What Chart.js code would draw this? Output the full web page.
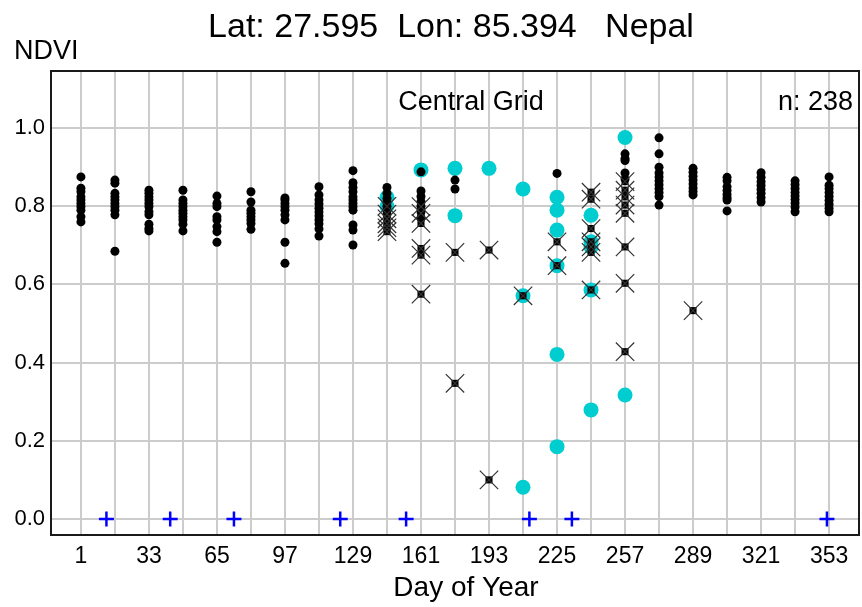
<!DOCTYPE html>
<html>
<head>
<meta charset="utf-8">
<title>NDVI by Day of Year</title>
<script src="https://cdn.jsdelivr.net/npm/chart.js@4"></script>
<style>
  html, body { margin: 0; padding: 0; background: #fff; }
  canvas { display: block; }
</style>
</head>
<body>
<canvas id="c" width="862" height="607"></canvas>
<script>
// 16-day composite dates (day of year)
const doyGrid = [1, 17, 33, 49, 65, 81, 97, 113, 129, 145, 161, 177,
                 193, 209, 225, 241, 257, 273, 289, 305, 321, 337, 353];

// Good-quality NDVI observations, one list per composite date
const goodNdvi = [
  [0.875, 0.846, 0.837, 0.824, 0.816, 0.807, 0.799, 0.790, 0.773, 0.760],
  [0.867, 0.859, 0.833, 0.824, 0.816, 0.807, 0.799, 0.790, 0.778, 0.685],
  [0.841, 0.833, 0.824, 0.816, 0.807, 0.799, 0.786, 0.778, 0.754, 0.743, 0.737],
  [0.841, 0.816, 0.807, 0.799, 0.790, 0.782, 0.773, 0.765, 0.754, 0.737],
  [0.826, 0.807, 0.799, 0.773, 0.765, 0.748, 0.735, 0.708],
  [0.837, 0.811, 0.790, 0.782, 0.773, 0.765, 0.756, 0.741],
  [0.821, 0.816, 0.807, 0.799, 0.790, 0.778, 0.765, 0.708, 0.654],
  [0.850, 0.829, 0.816, 0.806, 0.795, 0.785, 0.775, 0.765, 0.755, 0.742, 0.724],
  [0.891, 0.860, 0.848, 0.837, 0.824, 0.816, 0.807, 0.799, 0.790, 0.752, 0.739, 0.701],
  [0.848, 0.833, 0.820, 0.810, 0.800, 0.790, 0.780],
  [0.888, 0.839, 0.825, 0.812, 0.800, 0.786, 0.770],
  [0.867, 0.844],
  [],
  [],
  [0.884],
  [],
  [0.934, 0.922, 0.917, 0.885, 0.870],
  [0.975, 0.934, 0.900, 0.885, 0.875, 0.865, 0.855, 0.845, 0.835, 0.825, 0.803],
  [0.897, 0.887, 0.877, 0.867, 0.857, 0.847, 0.838, 0.829],
  [0.874, 0.865, 0.850, 0.840, 0.830, 0.822, 0.816, 0.788],
  [0.886, 0.874, 0.863, 0.853, 0.843, 0.833, 0.822, 0.811],
  [0.865, 0.855, 0.845, 0.835, 0.826, 0.817, 0.808, 0.798, 0.786],
  [0.875, 0.854, 0.845, 0.835, 0.825, 0.815, 0.805, 0.795, 0.786]
];

// Cloud-affected observations (day of year, NDVI)
const cloudDoy  = [145, 145, 161, 177, 177, 193, 209, 209, 209,
                   225, 225, 225, 225, 225, 225, 241, 241, 241, 241, 241, 257, 257];
const cloudNdvi = [0.823, 0.800, 0.893, 0.897, 0.776, 0.897, 0.844, 0.571, 0.081,
                   0.823, 0.790, 0.739, 0.648, 0.421, 0.185, 0.777, 0.709, 0.696, 0.586, 0.279, 0.976, 0.317];

// Flagged observations (day of year, NDVI)
const flagDoy  = [145, 145, 145, 145, 145, 145, 161, 161, 161, 161, 161, 161,
                  177, 177, 193, 193, 209, 225, 225,
                  241, 241, 241, 241, 241, 241, 241,
                  257, 257, 257, 257, 257, 257, 257, 257, 289];
const flagNdvi = [0.800, 0.780, 0.768, 0.755, 0.745, 0.735, 0.799, 0.782, 0.756, 0.692, 0.675, 0.575,
                  0.682, 0.347, 0.688, 0.100, 0.571, 0.709, 0.648,
                  0.836, 0.818, 0.743, 0.709, 0.696, 0.682, 0.586,
                  0.863, 0.841, 0.824, 0.803, 0.782, 0.696, 0.603, 0.428, 0.533];

// Days with snow / missing retrievals, plotted on the zero line
const snowDoy  = [13, 43, 73, 123, 154, 212, 232, 352];
const snowNdvi = [0, 0, 0, 0, 0, 0, 0, 0];

// Axis ticks
const xTickDays  = doyGrid;
const xLabelDays = [1, 33, 65, 97, 129, 161, 193, 225, 257, 289, 321, 353];
const yTicks     = [0.0, 0.2, 0.4, 0.6, 0.8, 1.0];

const FONT = "'Liberation Sans', Arial, Helvetica, sans-serif";

const pairs = (xs, ys) => xs.map((x, i) => ({ x: x, y: ys[i] }));
const goodPoints = [];
doyGrid.forEach((d, i) => goodNdvi[i].forEach(v => goodPoints.push({ x: d, y: v })));
const cloudPoints = pairs(cloudDoy, cloudNdvi);
const flagPoints = pairs(flagDoy, flagNdvi);
const snowPoints = pairs(snowDoy, snowNdvi);

// Frame and annotation text
const decorations = {
  id: 'decorations',
  afterDraw(chart) {
    const { ctx, chartArea: a } = chart;
    ctx.save();
    ctx.strokeStyle = '#1a1a1a';
    ctx.lineWidth = 2;
    ctx.strokeRect(a.left, a.top, a.right - a.left, a.bottom - a.top);

    ctx.fillStyle = '#000';
    ctx.textBaseline = 'alphabetic';
    ctx.textAlign = 'center';
    ctx.font = '34px ' + FONT;
    ctx.fillText('Lat: 27.595  Lon: 85.394   Nepal', 451, 37);

    ctx.textAlign = 'left';
    ctx.font = '27px ' + FONT;
    ctx.fillText('NDVI', 14, 59);

    ctx.textAlign = 'center';
    ctx.font = '27px ' + FONT;
    ctx.fillText('Central Grid', 471, 110);

    ctx.textAlign = 'right';
    ctx.fillText('n: 238', 853, 110);

    ctx.textAlign = 'center';
    ctx.font = '28px ' + FONT;
    ctx.fillText('Day of Year', 466, 596);
    ctx.restore();
  }
};

new Chart(document.getElementById('c'), {
  type: 'scatter',
  data: {
    datasets: [
      { label: 'snow', data: snowPoints, pointStyle: 'cross', pointRadius: 7.5,
        borderColor: '#0000ff', backgroundColor: '#0000ff', pointBorderWidth: 2.5, order: 0 },
      { label: 'flag', data: flagPoints, pointStyle: 'crossRot', pointRadius: 13,
        borderColor: '#333333', backgroundColor: '#333333', pointBorderWidth: 1.2, order: 1 },
      { label: 'flagCentre', data: flagPoints, pointStyle: 'rect', pointRadius: 5,
        borderColor: '#000', backgroundColor: '#000', pointBorderWidth: 0, order: 2 },
      { label: 'good', data: goodPoints, pointStyle: 'circle', pointRadius: 4.5,
        borderColor: '#000', backgroundColor: '#000', pointBorderWidth: 0, order: 3 },
      { label: 'cloud', data: cloudPoints, pointStyle: 'circle', pointRadius: 7.5,
        borderColor: '#00cdd0', backgroundColor: '#00cdd0', pointBorderWidth: 0, order: 4 }
    ]
  },
  options: {
    responsive: false,
    devicePixelRatio: 1,
    animation: false,
    events: [],
    layout: { autoPadding: false, padding: { top: 71, right: 3, left: 0, bottom: 0 } },
    plugins: { legend: { display: false }, tooltip: { enabled: false }, title: { display: false } },
    scales: {
      x: {
        type: 'linear',
        min: -13.08,
        max: 367.08,
        afterBuildTicks(scale) { scale.ticks = xTickDays.map(v => ({ value: v })); },
        afterFit(scale) { scale.height = 72; },
        grid: { color: '#cccccc', lineWidth: 2, drawTicks: false },
        border: { display: false },
        ticks: {
          autoSkip: false,
          maxRotation: 0,
          padding: 8,
          color: '#000',
          font: { family: FONT, size: 23 },
          callback: v => xLabelDays.includes(v) ? String(v) : ''
        }
      },
      y: {
        type: 'linear',
        min: -0.041,
        max: 1.146,
        afterBuildTicks(scale) { scale.ticks = yTicks.map(v => ({ value: v })); },
        afterFit(scale) { scale.width = 51; },
        grid: { color: '#cccccc', lineWidth: 2, drawTicks: false },
        border: { display: false },
        ticks: {
          padding: 6,
          color: '#000',
          font: { family: FONT, size: 22 },
          callback: v => v.toFixed(1)
        }
      }
    }
  },
  plugins: [decorations]
});
</script>
</body>
</html>
